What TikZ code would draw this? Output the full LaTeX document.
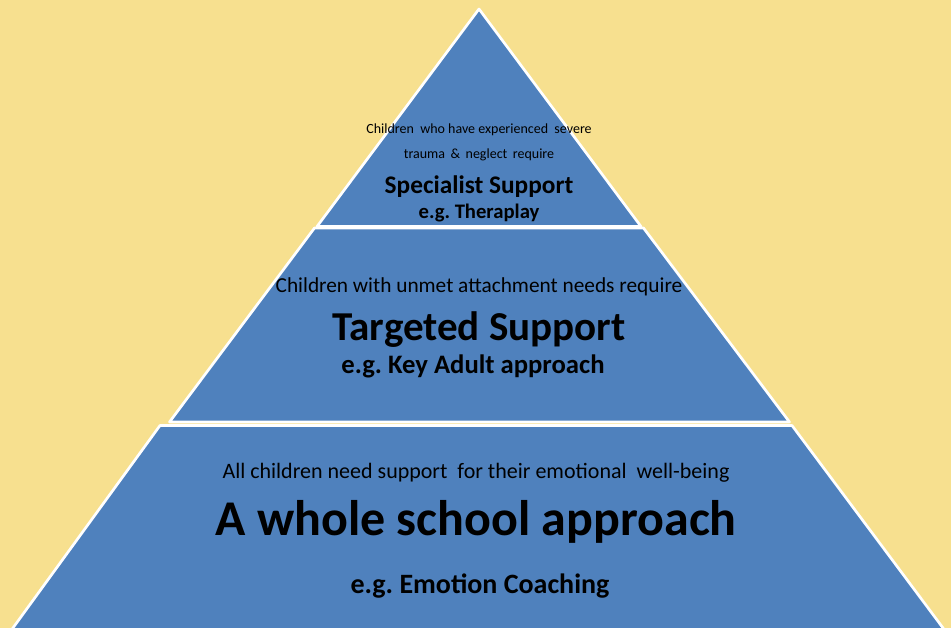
\documentclass[tikz,border=0pt]{standalone}
\usepackage{fontspec}
\setmainfont{Carlito}
\usepackage{tikz}
\usepackage{xcolor}
\definecolor{paleyellow}{RGB}{247, 224, 143}
\definecolor{tierblue}{RGB}{79, 129, 189}
\frenchspacing

\tikzset{
  tier/.style={fill=tierblue, draw=white, line width=2pt, line join=round},
  lead/.style={anchor=base, inner sep=0pt, text=black},
}

\begin{document}
\begin{tikzpicture}[x=0.75pt, y=-0.75pt]
    \fill[paleyellow] (0, 0) rectangle (951, 628);
    \useasboundingbox (0, 0) rectangle (951, 628);
    % the three tiers
    \draw[tier] (479, 9) -- (641, 226.5) -- (317, 226.5) -- cycle;
    \draw[tier] (314.5, 228) -- (643.5, 228) -- (789.5, 422) -- (169.5, 422) -- cycle;
    \draw[tier] (160, 425.5) -- (792, 425.5) -- (946, 632) -- (10, 632) -- cycle;
    % top tier
    \node[lead, font=\fontsize{10.5}{12}\selectfont] (topnote) at (479, 133)
      {Children \ who have experienced \ severe};
    \node[lead, font=\fontsize{10.5}{12}\selectfont] (topnotetwo) at (479, 158)
      {trauma \,\& \,neglect \,require};
    \node[lead, font=\fontsize{19}{22}\selectfont\bfseries] (toptitle) at (479, 193) {Specialist Support};
    \node[lead, font=\fontsize{15.5}{19}\selectfont\bfseries] (topeg) at (479, 218) {e.g. Theraplay};
    % middle tier
    \node[lead, font=\fontsize{16}{19}\selectfont] (midnote) at (479, 292)
      {Children with unmet attachment needs require};
    \node[lead, font=\fontsize{30.8}{36}\selectfont\bfseries] (midtitle) at (479, 340) {Targeted Support};
    \node[lead, font=\fontsize{20}{24}\selectfont\bfseries] (mideg) at (473, 373) {e.g. Key Adult approach};
    % bottom tier
    \node[lead, font=\fontsize{16.5}{20}\selectfont] (basenote) at (476, 478)
      {All children need support \ for their emotional \ well-being};
    \node[lead, font=\fontsize{37.5}{44}\selectfont\bfseries] (basetitle) at (476, 535) {A whole school approach};
    \node[lead, font=\fontsize{21}{25}\selectfont\bfseries] (baseeg) at (480, 593) {e.g. Emotion Coaching};
\end{tikzpicture}
\end{document}
